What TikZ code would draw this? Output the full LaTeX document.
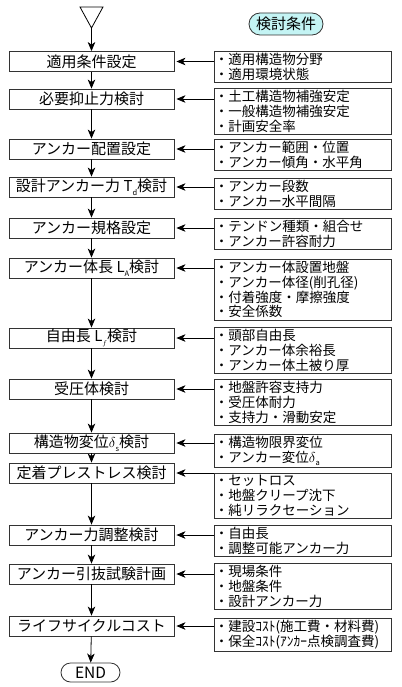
\documentclass[tikz,border=0pt]{standalone}
\usepackage{fontspec}
\setmainfont{Noto Sans CJK JP}
\usepackage{xcolor}
\usetikzlibrary{arrows.meta, shapes.misc}
\definecolor{pillcyan}{RGB}{196,244,244}
\tikzset{flowbox/.style={draw=black!80, line width=0.8pt, minimum width=165pt, minimum height=20pt, inner sep=0pt, font=\fontsize{15}{15}\selectfont}}
\tikzset{condbox/.style={draw=black!80, line width=0.8pt, anchor=north west, text width=176pt, inner xsep=0.5pt, inner ysep=2pt, align=left, font=\fontsize{13.5}{14.7}\selectfont}}
\tikzset{arr/.style={-{Stealth[length=9pt, width=7.5pt, inset=2.5pt]}, line width=0.8pt}}
\newcommand{\lsub}[1]{\raisebox{-0.45ex}{\fontsize{7.5}{7.5}\selectfont #1}}

\begin{document}
\begin{tikzpicture}[x=1pt, y=-1pt]
\useasboundingbox (0,0) rectangle (401,687);
\draw[line width=0.8pt] (80,7) -- (103,7) -- (91.5,28) -- cycle;
\coordinate (start) at (91.5,28);
\node[rounded rectangle, draw=black!80, line width=0.8pt, fill=pillcyan, minimum width=74pt, minimum height=22pt, inner sep=0pt, font=\fontsize{15}{15}\selectfont] (cond) at (286,24) {検討条件};
\node[flowbox] (l1) at (91.5,61.5) {適用条件設定};
\node[flowbox] (l2) at (91.5,99) {必要抑止力検討};
\node[flowbox] (l3) at (91.5,149) {アンカー配置設定};
\node[flowbox] (l4) at (91.5,187) {設計アンカー力 T\lsub{d}検討};
\node[flowbox] (l5) at (91.5,228) {アンカー規格設定};
\node[flowbox] (l6) at (91.5,268) {アンカー体長 L\lsub{A}検討};
\node[flowbox] (l7) at (91.5,338) {自由長 L\lsub{$f$}検討};
\node[flowbox] (l8) at (91.5,389) {受圧体検討};
\node[flowbox] (l9) at (91.5,443) {構造物変位$\delta$\lsub{s}検討};
\node[flowbox] (l10) at (91.5,473) {定着プレストレス検討};
\node[flowbox] (l11) at (91.5,535) {アンカー力調整検討};
\node[flowbox] (l12) at (91.5,574) {アンカー引抜試験計画};
\node[flowbox] (l13) at (91.5,626) {ライフサイクルコスト};
\node[rounded rectangle, draw=black!80, line width=0.8pt, minimum width=59pt, minimum height=19pt, inner sep=0pt, font=\fontsize{15.5}{15.5}\selectfont] (end) at (90.5,672.5) {END};
\node[condbox] (r1) at (214,51) {・適用構造物分野\\・適用環境状態};
\node[condbox] (r2) at (214,88) {・土工構造物補強安定\\・一般構造物補強安定\\・計画安全率};
\node[condbox] (r3) at (214,139) {・アンカー範囲・位置\\・アンカー傾角・水平角};
\node[condbox] (r4) at (214,178) {・アンカー段数\\・アンカー水平間隔};
\node[condbox] (r5) at (214,218) {・テンドン種類・組合せ\\・アンカー許容耐力};
\node[condbox] (r6) at (214,259) {・アンカー体設置地盤\\・アンカー体径(削孔径)\\・付着強度・摩擦強度\\・安全係数};
\node[condbox] (r7) at (214,327) {・頭部自由長\\・アンカー体余裕長\\・アンカー体土被り厚};
\node[condbox] (r8) at (214,379) {・地盤許容支持力\\・受圧体耐力\\・支持力・滑動安定};
\node[condbox] (r9) at (214,434) {・構造物限界変位\\・アンカー変位$\delta$\lsub{a}};
\node[condbox] (r10) at (214,473) {・セットロス\\・地盤クリープ沈下\\・純リラクセーション};
\node[condbox] (r11) at (214,525) {・自由長\\・調整可能アンカー力};
\node[condbox] (r12) at (214,563) {・現場条件\\・地盤条件\\・設計アンカー力};
\node[condbox] (r13) at (214,618) {・建設ｺｽﾄ(施工費・材料費)\\・保全ｺｽﾄ(ｱﾝｶｰ点検調査費)};
\draw[arr] (start) -- (l1);
\draw[arr] (l1) -- (l2);
\draw[arr] (l2) -- (l3);
\draw[arr] (l3) -- (l4);
\draw[arr] (l4) -- (l5);
\draw[arr] (l5) -- (l6);
\draw[arr] (l6) -- (l7);
\draw[arr] (l7) -- (l8);
\draw[arr] (l8) -- (l9);
\draw[arr] (l9) -- (l10);
\draw[arr] (l10) -- (l11);
\draw[arr] (l11) -- (l12);
\draw[arr] (l12) -- (l13);
\draw[arr] (l13) -- (end);
\draw[arr, shorten >=2pt] (r1.west |- l1) -- (l1.east);
\draw[arr, shorten >=2pt] (r2.west |- l2) -- (l2.east);
\draw[arr, shorten >=2pt] (r3.west |- l3) -- (l3.east);
\draw[arr, shorten >=2pt] (r4.west |- l4) -- (l4.east);
\draw[arr, shorten >=2pt] (r5.west |- l5) -- (l5.east);
\draw[arr, shorten >=2pt] (r6.west |- l6) -- (l6.east);
\draw[arr, shorten >=2pt] (r7.west |- l7) -- (l7.east);
\draw[arr, shorten >=2pt] (r8.west |- l8) -- (l8.east);
\draw[arr, shorten >=2pt] (r9.west |- l9) -- (l9.east);
\draw[arr, shorten >=2pt] (r10.west |- l10) -- (l10.east);
\draw[arr, shorten >=2pt] (r11.west |- l11) -- (l11.east);
\draw[arr, shorten >=2pt] (r12.west |- l12) -- (l12.east);
\draw[arr, shorten >=2pt] (r13.west |- l13) -- (l13.east);
\end{tikzpicture}
\end{document}
